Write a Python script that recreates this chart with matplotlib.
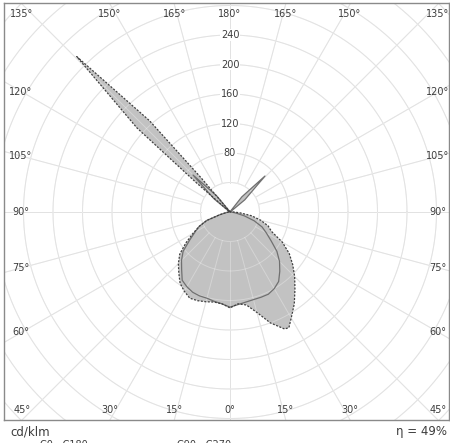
import numpy as np
import matplotlib
matplotlib.use('Agg')
import matplotlib.pyplot as plt

# Luminous intensity in cd/klm, angles measured from nadir (0 = down)
# C0 - C180 (solid)
c180_ang = [0, 5, 10, 15, 20, 25, 30, 35, 40, 45, 50, 55, 60, 65, 70, 75, 80, 85, 90,
            125, 129.5, 135, 140.5, 145, 180]
c180_val = [129, 125, 123, 121, 121, 120, 117, 113, 102, 93, 83, 67, 55, 46, 34, 14, 6, 3, 2,
            2, 28, 71, 28, 2, 0]
c0_ang = [0, 5, 10, 15, 20, 25, 30, 35, 40, 45, 50, 55, 60, 65, 70, 75, 80, 85, 90,
          125, 129.5, 135.8, 142, 146, 180]
c0_val = [129, 126, 124, 123, 123, 123, 120, 115, 105, 95, 83, 68, 57, 48, 35, 20, 8, 3, 1,
          2, 26, 68, 26, 2, 0]

# C90 - C270 (dashed)
c270_ang = [0, 5, 10, 15, 20, 25, 30, 35, 40, 45, 50, 55, 60, 65, 70, 75, 80, 85, 90,
            129, 131, 132.1, 135.4, 138.6, 139.8, 142, 180]
c270_val = [130, 125, 124, 126, 128, 129, 124, 118, 108, 99, 89, 73, 58, 46, 33, 15, 6, 3, 1,
            2, 60, 170, 296, 165, 60, 2, 0]
c90_ang = [0, 5, 10, 15, 20, 25, 27, 30, 35, 40, 45, 50, 55, 60, 65, 70, 75, 80, 85, 90, 100, 180]
c90_val = [130, 125, 128, 141, 160, 175, 176, 166, 152, 137, 124, 111, 98, 82, 62, 55, 43, 30,
           14, 5, 1, 0]

rings = [40, 80, 120, 160, 200, 240, 280, 320, 360, 400, 440]
ring_labels = [80, 120, 160, 200, 240]
top_angles = [135, 150, 165, 180, 165, 150, 135]
side_angles = [120, 105, 90, 75, 60]
bottom_angles = [45, 30, 15, 0, 15, 30, 45]
efficiency = 49


def outline(left_ang, left_val, right_ang, right_val):
    la = np.radians(left_ang[::-1])
    lv = np.array(left_val[::-1])
    ra = np.radians(right_ang)
    rv = np.array(right_val)
    x = np.concatenate([-lv * np.sin(la), rv * np.sin(ra)])
    y = np.concatenate([-lv * np.cos(la), -rv * np.cos(ra)])
    return x, y


def draw_grid(color, zorder, alpha=1.0):
    t = np.linspace(0, 2 * np.pi, 400)
    for r in rings:
        ax.plot(r * np.cos(t), r * np.sin(t), color=color, lw=0.7, alpha=alpha, zorder=zorder)
    for a in range(0, 360, 15):
        ar = np.radians(a)
        ax.plot([40 * np.sin(ar), 600 * np.sin(ar)], [-40 * np.cos(ar), -600 * np.cos(ar)],
                color=color, lw=0.7, alpha=alpha, zorder=zorder)


fig = plt.figure(figsize=(4.5, 4.43), dpi=100)
W, H = 450, 443
ax = fig.add_axes([4 / W, (H - 420) / H, 445 / W, 417 / H])
s = 0.7375  # px per cd/klm
ax.set_xlim(-(230 - 4) / s, (449 - 230) / s)
ax.set_ylim(-(420 - 212) / s, (212 - 3) / s)
ax.set_aspect('equal')
ax.set_xticks([])
ax.set_yticks([])
for sp in ax.spines.values():
    sp.set_color('#8a8a8a')
    sp.set_linewidth(1)

# grid under the fill, then a faint white copy over it so it shows through
draw_grid('#d6d6d6', 0.5)
fill_c = '#c2c2c2'
xs, ys = outline(c180_ang, c180_val, c0_ang, c0_val)
xd, yd = outline(c270_ang, c270_val, c90_ang, c90_val)
ax.fill(xd, yd, color=fill_c, lw=0, zorder=1)
ax.fill(xs, ys, color=fill_c, lw=0, zorder=1)
draw_grid('white', 2, alpha=0.3)
ax.plot(xs, ys, color='#707070', lw=0.9, zorder=3)
ax.plot(xd, yd, color='#404040', lw=0.9, ls=(0, (1.6, 1.2)), zorder=3)

txt_c = '#3c3c3c'
fs = 7
for r in ring_labels:
    ax.text(0, r, str(r), ha='center', va='center', fontsize=fs, color=txt_c, zorder=4,
            bbox=dict(facecolor='white', edgecolor='none', pad=0.6))

D = 282
for i, a in enumerate(top_angles):
    sign = -1 if i < 3 else 1
    ax.text(sign * np.tan(np.radians(180 - a)) * D, (212 - 14) / s, f'{a}°',
            ha='center', va='center', fontsize=fs, color=txt_c, zorder=4)
for i, a in enumerate(bottom_angles):
    sign = -1 if i < 3 else 1
    ax.text(sign * np.tan(np.radians(a)) * D, -(410 - 212) / s, f'{a}°',
            ha='center', va='center', fontsize=fs, color=txt_c, zorder=4)
for a in side_angles:
    yy = np.tan(np.radians(a - 90)) * 281
    ax.text((21 - 230) / s, yy, f'{a}°', ha='center', va='center', fontsize=fs,
            color=txt_c, zorder=4)
    ax.text((438 - 230) / s, yy, f'{a}°', ha='center', va='center', fontsize=fs,
            color=txt_c, zorder=4)

fig.text(10 / W, 1 - 432 / H, 'cd/klm', ha='left', va='center', fontsize=8.5, color=txt_c)
fig.text(447 / W, 1 - 432 / H, f'η = {efficiency}%', ha='right', va='center', fontsize=8.5,
         color=txt_c)

# legend row, mostly cut off by the lower edge (as in the reference)
fig.lines.append(plt.Line2D([12 / W, 34 / W], [1 - 446 / H] * 2, color='#707070', lw=0.9,
                            transform=fig.transFigure))
fig.text(40 / W, 1 - 440 / H, 'C0 - C180', ha='left', va='top', fontsize=7, color=txt_c)
fig.lines.append(plt.Line2D([140 / W, 170 / W], [1 - 446 / H] * 2, color='#404040', lw=0.9,
                            ls=(0, (1.6, 1.2)), transform=fig.transFigure))
fig.text(177 / W, 1 - 440 / H, 'C90 - C270', ha='left', va='top', fontsize=7, color=txt_c)

fig.savefig('out.png', dpi=100)
